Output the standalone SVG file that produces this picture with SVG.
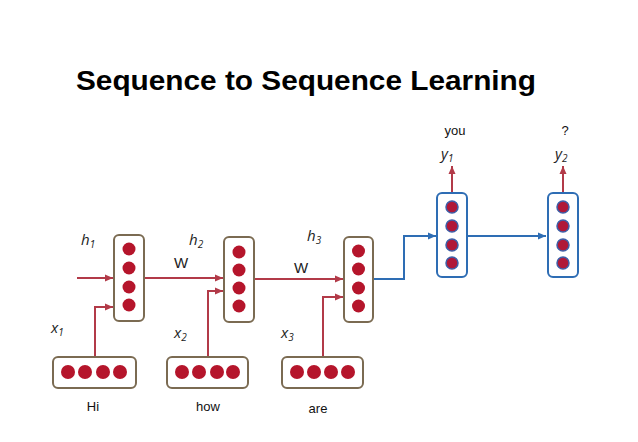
<svg xmlns="http://www.w3.org/2000/svg" width="638" height="442" viewBox="0 0 638 442">
<defs>
<style>
.title{font-family:"Liberation Sans",Arial,sans-serif;font-weight:bold;font-size:28px;fill:#000}
.lbl{font-family:"Liberation Sans",Arial,sans-serif;font-size:13px;fill:#111}
.var{font-family:"Open Sans","Liberation Sans",sans-serif;font-style:italic;font-size:15px;fill:#222}
.sub{font-size:10px}
.w{font-family:"Liberation Sans",Arial,sans-serif;font-size:15px;fill:#222}
.ebox{fill:#fff;stroke:#7b6b52;stroke-width:2}
.dbox{fill:#fff;stroke:#2e6db4;stroke-width:2}
.edot{fill:#b5152b}
.ddot{fill:#b01838;stroke:#3d5fa8;stroke-width:1.5}
.red{fill:none;stroke:#b23a48;stroke-width:2}
.blue{fill:none;stroke:#2e6db4;stroke-width:2}
</style>
<marker id="ar" markerUnits="userSpaceOnUse" markerWidth="9" markerHeight="8" refX="8" refY="4" orient="auto"><path d="M0,0.5 L8,4 L0,7.5 z" fill="#b23a48"/></marker>
<marker id="ab" markerUnits="userSpaceOnUse" markerWidth="9" markerHeight="8" refX="8" refY="4" orient="auto"><path d="M0,0.5 L8,4 L0,7.5 z" fill="#2e6db4"/></marker>
</defs>
<rect width="638" height="442" fill="#fff"/>
<text class="title" x="76" y="90" textLength="460" lengthAdjust="spacingAndGlyphs">Sequence to Sequence Learning</text>

<g id="connectors">
<path class="red" d="M77 278 H113" marker-end="url(#ar)"/>
<path class="red" d="M144 278 H223" marker-end="url(#ar)"/>
<path class="red" d="M254 279 H343" marker-end="url(#ar)"/>
<path class="red" d="M95 357 V307 H113" marker-end="url(#ar)"/>
<path class="red" d="M208 357 V291 H223" marker-end="url(#ar)"/>
<path class="red" d="M323 357 V297 H343" marker-end="url(#ar)"/>
<path class="red" d="M452 192 V166" marker-end="url(#ar)"/>
<path class="red" d="M563 192 V166" marker-end="url(#ar)"/>
<path class="blue" d="M373 279 H404 V236 H436" marker-end="url(#ab)"/>
<path class="blue" d="M467 236 H546" marker-end="url(#ab)"/>
</g>

<g id="h1">
<rect class="ebox" x="114" y="235" width="30" height="86" rx="5"/>
<circle class="edot" cx="129" cy="249" r="6.5"/><circle class="edot" cx="129" cy="268" r="6.5"/><circle class="edot" cx="129" cy="287" r="6.5"/><circle class="edot" cx="129" cy="305" r="6.5"/>
</g>
<g id="h2">
<rect class="ebox" x="224" y="237" width="30" height="85" rx="5"/>
<circle class="edot" cx="239" cy="252" r="6.5"/><circle class="edot" cx="239" cy="270" r="6.5"/><circle class="edot" cx="239" cy="288" r="6.5"/><circle class="edot" cx="239" cy="306" r="6.5"/>
</g>
<g id="h3">
<rect class="ebox" x="344" y="237" width="29" height="85" rx="5"/>
<circle class="edot" cx="358.5" cy="251" r="6.5"/><circle class="edot" cx="358.5" cy="269" r="6.5"/><circle class="edot" cx="358.5" cy="288" r="6.5"/><circle class="edot" cx="358.5" cy="306" r="6.5"/>
</g>
<g id="y1">
<rect class="dbox" x="437" y="193" width="30" height="84" rx="5"/>
<circle class="ddot" cx="452" cy="207" r="6"/><circle class="ddot" cx="452" cy="226" r="6"/><circle class="ddot" cx="452" cy="245" r="6"/><circle class="ddot" cx="452" cy="263" r="6"/>
</g>
<g id="y2">
<rect class="dbox" x="548" y="193" width="30" height="84" rx="5"/>
<circle class="ddot" cx="563" cy="207" r="6"/><circle class="ddot" cx="563" cy="226" r="6"/><circle class="ddot" cx="563" cy="245" r="6"/><circle class="ddot" cx="563" cy="263" r="6"/>
</g>
<g id="x1">
<rect class="ebox" x="53" y="357" width="83" height="31" rx="5"/>
<circle class="edot" cx="68" cy="372" r="7"/><circle class="edot" cx="85" cy="372" r="7"/><circle class="edot" cx="103" cy="372" r="7"/><circle class="edot" cx="120" cy="372" r="7"/>
</g>
<g id="x2">
<rect class="ebox" x="167" y="357" width="81" height="31" rx="5"/>
<circle class="edot" cx="182" cy="372" r="7"/><circle class="edot" cx="199" cy="372" r="7"/><circle class="edot" cx="217" cy="372" r="7"/><circle class="edot" cx="233" cy="372" r="7"/>
</g>
<g id="x3">
<rect class="ebox" x="282" y="357" width="81" height="31" rx="5"/>
<circle class="edot" cx="297" cy="372" r="7"/><circle class="edot" cx="314" cy="372" r="7"/><circle class="edot" cx="331" cy="372" r="7"/><circle class="edot" cx="348" cy="372" r="7"/>
</g>

<g id="labels">
<text class="var" x="81" y="245">h<tspan class="sub" dy="3">1</tspan></text>
<text class="var" x="189" y="245">h<tspan class="sub" dy="3">2</tspan></text>
<text class="var" x="307" y="241">h<tspan class="sub" dy="3">3</tspan></text>
<text class="w" x="174" y="268">W</text>
<text class="w" x="294" y="273">W</text>
<text class="var" x="51" y="333">x<tspan class="sub" dy="3">1</tspan></text>
<text class="var" x="174" y="338">x<tspan class="sub" dy="3">2</tspan></text>
<text class="var" x="281" y="338">x<tspan class="sub" dy="3">3</tspan></text>
<text class="var" x="441" y="159">y<tspan class="sub" dy="3">1</tspan></text>
<text class="var" x="555" y="159">y<tspan class="sub" dy="3">2</tspan></text>
<text class="lbl" x="455" y="135" text-anchor="middle">you</text>
<text class="lbl" x="565" y="135" text-anchor="middle">?</text>
<text class="lbl" x="93" y="411" text-anchor="middle">Hi</text>
<text class="lbl" x="208" y="411" text-anchor="middle">how</text>
<text class="lbl" x="318" y="413" text-anchor="middle">are</text>
</g>
</svg>
